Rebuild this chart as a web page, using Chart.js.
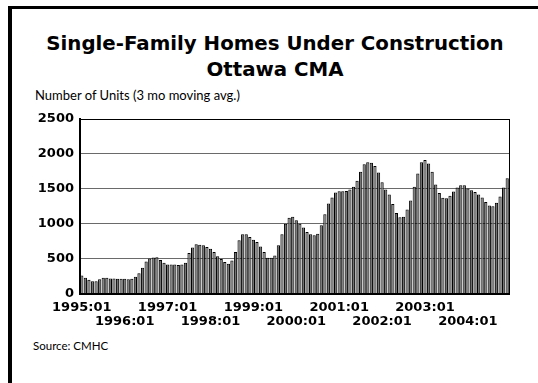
<!DOCTYPE html>
<html>
<head>
<meta charset="utf-8">
<script src="https://cdn.jsdelivr.net/npm/chart.js@4.4.1/dist/chart.umd.min.js"></script>
<style>
    html, body { margin: 0; padding: 0; background: #fff; }
    #wrap { position: relative; width: 538px; height: 383px; overflow: hidden; }
    #frame { position: absolute; left: 8px; top: 6px; width: 600px; height: 500px; border-left: 4px solid #000; border-top: 3px solid #000; }
    #titulo { position: absolute; left: 10px; width: 530px; top: 31px; text-align: center; font: bold 19.8px "DejaVu Sans"; line-height: 26px; color: #000; }
    #unidades { position: absolute; left: 35px; top: 89px; font: 13px Lato; line-height: 13px; color: #000; white-space: nowrap; }
    #fonte { position: absolute; left: 33px; top: 340px; font: 11.5px Lato; line-height: 11px; color: #000; }
    canvas { position: absolute; left: 0; top: 0; }
</style>
</head>
<body>
<div id="wrap">
    <div id="frame"></div>
    <div id="titulo">Single-Family Homes Under Construction<br>Ottawa CMA</div>
    <div id="unidades">Number of Units (3 mo moving avg.)</div>
    <div id="fonte">Source: CMHC</div>
    <canvas id="grafico" width="538" height="383"></canvas>
</div>
<script>
// dados mensais (media movel de 3 meses), jan..dez
const anos = [1995, 1996, 1997, 1998, 1999, 2000, 2001, 2002, 2003, 2004];
const u1995 = [259, 225, 196, 177, 177, 205, 225, 225, 215, 215, 210, 210];
const u1996 = [210, 205, 210, 240, 290, 370, 460, 500, 515, 520, 480, 440];
const u1997 = [417, 417, 417, 410, 417, 440, 580, 660, 705, 700, 690, 665];
const u1998 = [642, 594, 532, 493, 450, 426, 474, 594, 762, 848, 848, 810];
const u1999 = [771, 737, 675, 594, 513, 513, 546, 690, 848, 1001, 1087, 1101];
const u2000 = [1049, 1001, 944, 881, 848, 833, 857, 977, 1135, 1288, 1375, 1446];
const u2001 = [1465, 1465, 1470, 1490, 1528, 1614, 1743, 1853, 1882, 1872, 1825, 1734];
const u2002 = [1595, 1489, 1418, 1283, 1154, 1091, 1100, 1202, 1331, 1528, 1719, 1882];
const u2003 = [1911, 1863, 1743, 1560, 1440, 1370, 1365, 1400, 1460, 1520, 1550, 1550];
const u2004 = [1505, 1480, 1455, 1420, 1375, 1310, 1260, 1250, 1300, 1390, 1520, 1650];
const yTicks = [0, 500, 1000, 1500, 2000, 2500];

const unidades = [].concat(u1995, u1996, u1997, u1998, u1999, u2000, u2001, u2002, u2003, u2004);
const meses = [];
anos.forEach(a => {
    for (let m = 1; m <= 12; m++) {
        meses.push(a + ':' + (m < 10 ? '0' + m : m));
    }
});

// borda direita da area do grafico
const bordaDireita = {
    id: 'bordaDireita',
    beforeDatasetsDraw(chart) {
        const { ctx, chartArea } = chart;
        ctx.save();
        ctx.strokeStyle = '#000';
        ctx.lineWidth = 1;
        ctx.beginPath();
        ctx.moveTo(chartArea.right + 0.5, chartArea.top);
        ctx.lineTo(chartArea.right + 0.5, chartArea.bottom);
        ctx.stroke();
        ctx.restore();
    }
};

const ctx = document.getElementById('grafico').getContext('2d');
new Chart(ctx, {
    type: 'bar',
    data: {
        labels: meses,
        datasets: [{
            data: unidades,
            backgroundColor: '#727272',
            borderColor: '#000',
            borderWidth: 1,
            barPercentage: 0.9,
            categoryPercentage: 1
        }]
    },
    options: {
        responsive: false,
        animation: false,
        layout: { padding: { left: 0, right: 29, top: 119, bottom: 29.5 } },
        plugins: {
            legend: { display: false },
            tooltip: { enabled: false }
        },
        scales: {
            x: {
                grid: { display: false, drawTicks: false },
                border: { color: '#000', width: 2 },
                ticks: {
                    autoSkip: false,
                    maxRotation: 0,
                    minRotation: 0,
                    padding: 7,
                    color: '#000',
                    font: { family: 'DejaVu Sans', weight: 'bold', size: 13, lineHeight: 1.08 },
                    callback: function(value) {
                        const label = this.getLabelForValue(value);
                        if (!label.endsWith(':01')) return '';
                        const ano = parseInt(label.slice(0, 4), 10);
                        return ano % 2 === 1 ? label : ['', label];
                    }
                },
                afterFit: function(scale) { scale.height = 60; }
            },
            y: {
                min: 0,
                max: 2500,
                afterBuildTicks: function(scale) { scale.ticks = yTicks.map(v => ({ value: v })); },
                grid: {
                    color: c => (c.tick && c.tick.value === 2500) ? '#000' : '#6a6a6a',
                    lineWidth: 1,
                    drawTicks: false
                },
                border: { color: '#000', width: 2 },
                ticks: {
                    padding: 6,
                    color: '#000',
                    font: { family: 'DejaVu Sans', weight: 'bold', size: 13 },
                    callback: v => String(v)
                },
                afterFit: function(scale) { scale.width = 80; }
            }
        }
    },
    plugins: [bordaDireita]
});
</script>
</body>
</html>
